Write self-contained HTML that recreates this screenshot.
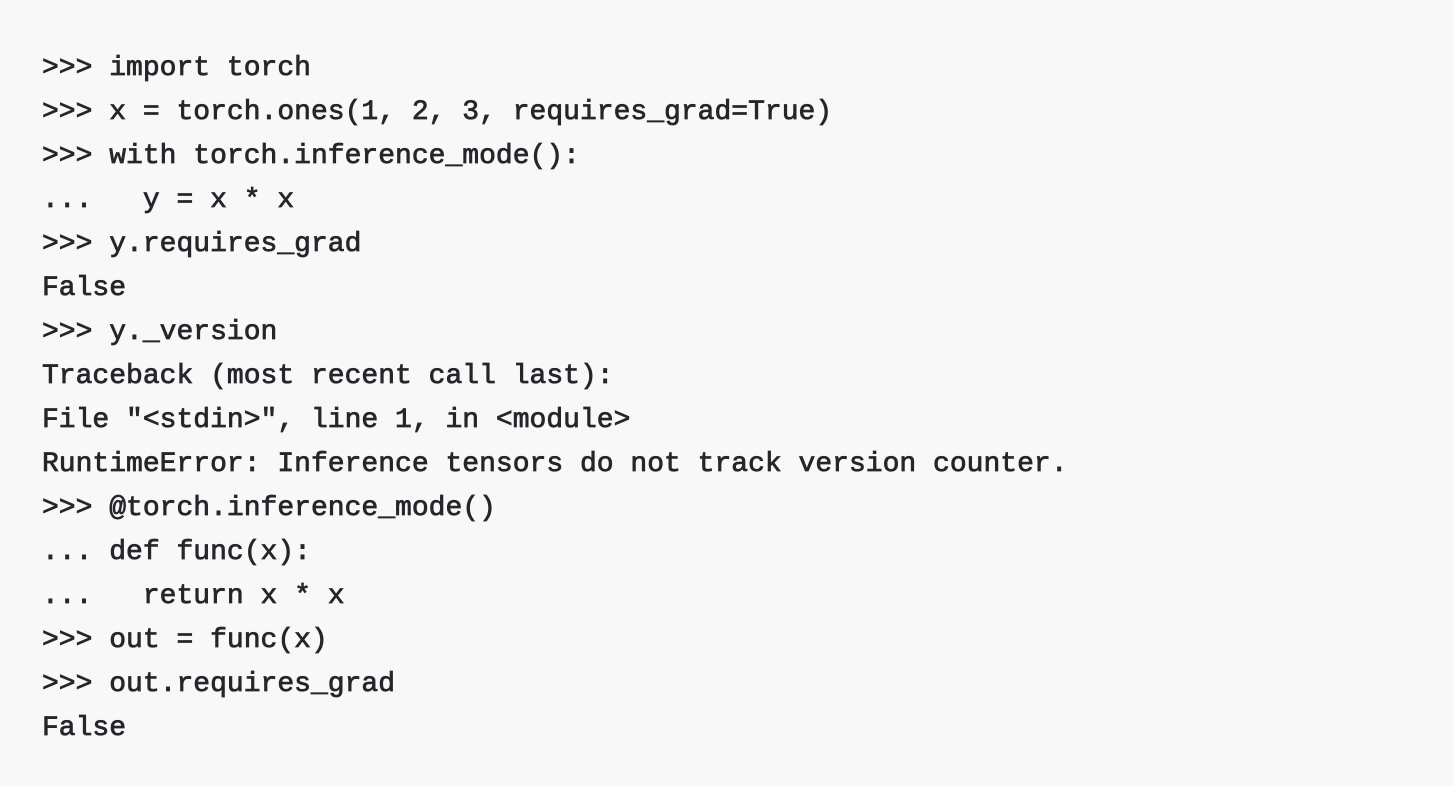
<!DOCTYPE html>
<html><head><style>
html,body{margin:0;padding:0;background:#f8f8f8;width:1454px;height:786px;overflow:hidden}
pre{position:absolute;left:42px;top:47px;margin:0;font-family:"Liberation Mono",monospace;font-size:28.03px;line-height:44px;color:#24262b;-webkit-text-stroke:0.75px #24262b;white-space:pre}
</style></head><body>
<pre>&gt;&gt;&gt; import torch
&gt;&gt;&gt; x = torch.ones(1, 2, 3, requires_grad=True)
&gt;&gt;&gt; with torch.inference_mode():
...   y = x * x
&gt;&gt;&gt; y.requires_grad
False
&gt;&gt;&gt; y._version
Traceback (most recent call last):
File "&lt;stdin&gt;", line 1, in &lt;module&gt;
RuntimeError: Inference tensors do not track version counter.
&gt;&gt;&gt; @torch.inference_mode()
... def func(x):
...   return x * x
&gt;&gt;&gt; out = func(x)
&gt;&gt;&gt; out.requires_grad
False</pre>
</body></html>
